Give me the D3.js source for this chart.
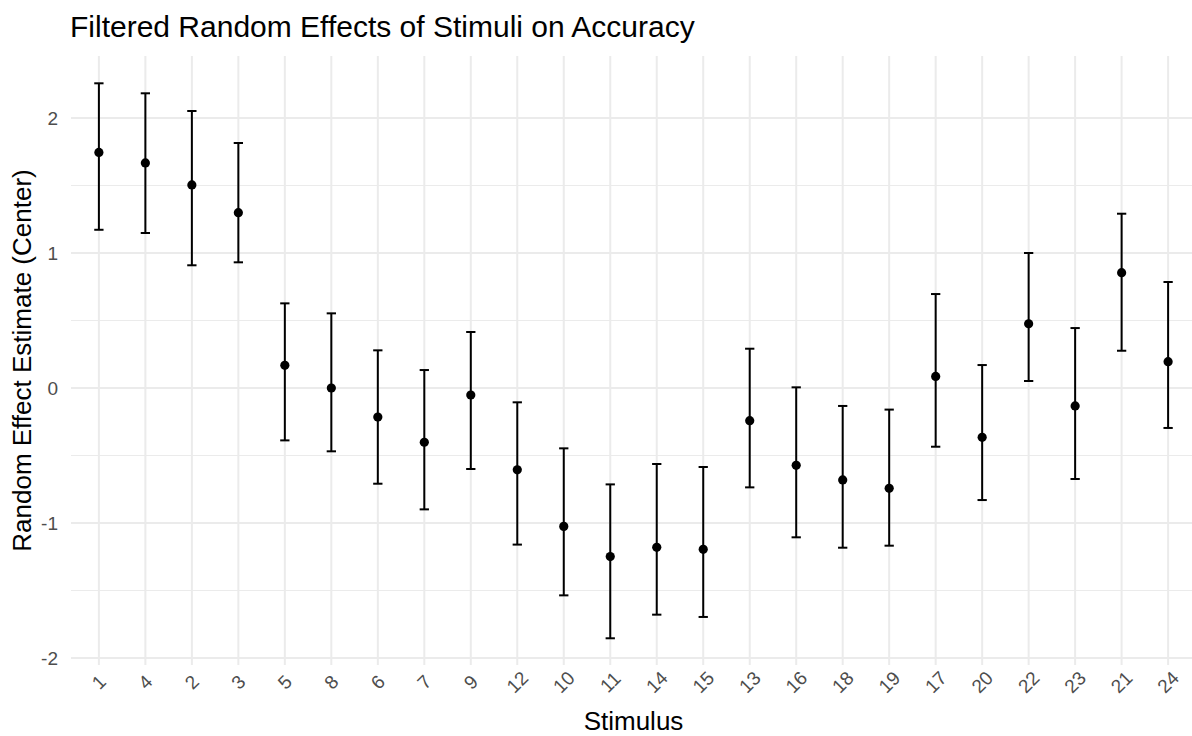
<!DOCTYPE html>
<html>
<head>
<meta charset="utf-8">
<script src="https://cdn.jsdelivr.net/npm/d3@7"></script>
<style>
  body { margin: 0; background: #fff; }
  text { font-family: "Liberation Sans", Arial, sans-serif; }
</style>
</head>
<body>
<div class="d3-content"></div>
<script>
const SVG_WIDTH = 1192;
const SVG_HEIGHT = 736;

// panel edges in pixels (right edge runs past the window, as in the original)
const PANEL = { left: 71, right: 1196, top: 56, bottom: 665 };

const stimuli = ['1','4','2','3','5','8','6','7','9','12','10','11','14','15','13','16','18','19','17','20','22','23','21','24'];
const estimates = [1.745, 1.667, 1.504, 1.299, 0.168, 0.0, -0.215, -0.402, -0.052, -0.606, -1.025, -1.249, -1.18, -1.195, -0.242, -0.573, -0.681, -0.743, 0.086, -0.365, 0.476, -0.133, 0.854, 0.195];
const upper = [2.257, 2.183, 2.052, 1.815, 0.627, 0.553, 0.279, 0.133, 0.415, -0.106, -0.447, -0.714, -0.563, -0.585, 0.291, 0.005, -0.133, -0.16, 0.696, 0.17, 1.0, 0.444, 1.291, 0.785];
const lower = [1.172, 1.148, 0.909, 0.931, -0.388, -0.469, -0.709, -0.899, -0.6, -1.16, -1.536, -1.854, -1.679, -1.696, -0.736, -1.106, -1.183, -1.168, -0.435, -0.83, 0.052, -0.674, 0.276, -0.296];

const yMajor = [-2, -1, 0, 1, 2];
const yMinor = [-1.5, -0.5, 0.5, 1.5];

const chart_data = stimuli.map((s, i) => ({
  stim: s,
  est: estimates[i],
  hi: upper[i],
  lo: lower[i],
}));

const svg = d3.select('.d3-content')
              .append('svg')
              .attr('width', SVG_WIDTH)
              .attr('height', SVG_HEIGHT);

// discrete x like ggplot: 0.6 units of padding on both sides
const xscale = d3.scalePoint()
  .domain(stimuli)
  .range([PANEL.left, PANEL.right])
  .padding(0.6);

const yscale = d3.scaleLinear()
  .domain([-2, 2])
  .range([658, 118]);

const grid = svg.append('g');

// minor gridlines
grid.selectAll('.minor')
  .data(yMinor)
  .join('line')
  .attr('x1', PANEL.left).attr('x2', PANEL.right)
  .attr('y1', d => yscale(d)).attr('y2', d => yscale(d))
  .attr('stroke', '#ebebeb')
  .attr('stroke-width', 1);

// major gridlines
grid.selectAll('.major')
  .data(yMajor)
  .join('line')
  .attr('x1', PANEL.left).attr('x2', PANEL.right)
  .attr('y1', d => yscale(d)).attr('y2', d => yscale(d))
  .attr('stroke', '#ebebeb')
  .attr('stroke-width', 2);

grid.selectAll('.vgrid')
  .data(stimuli)
  .join('line')
  .attr('x1', d => xscale(d)).attr('x2', d => xscale(d))
  .attr('y1', PANEL.top).attr('y2', PANEL.bottom)
  .attr('stroke', '#ebebeb')
  .attr('stroke-width', 2);

// y axis labels
svg.append('g')
  .selectAll('text')
  .data(yMajor)
  .join('text')
  .attr('x', 58)
  .attr('y', d => yscale(d))
  .attr('dy', '0.35em')
  .attr('text-anchor', 'end')
  .attr('fill', '#4d4d4d')
  .attr('font-size', 19)
  .text(d => d);

// x axis labels, rotated 45
svg.append('g')
  .selectAll('text')
  .data(stimuli)
  .join('text')
  .attr('transform', d => `translate(${xscale(d)}, 682) rotate(-45)`)
  .attr('dy', '0.35em')
  .attr('text-anchor', 'middle')
  .attr('fill', '#4d4d4d')
  .attr('font-size', 19)
  .text(d => d);

// error bars
const capW = xscale.step() * 0.1;
const bars = svg.append('g')
  .attr('stroke', '#000')
  .attr('stroke-width', 2);

bars.selectAll('.stem')
  .data(chart_data)
  .join('line')
  .attr('x1', d => xscale(d.stim)).attr('x2', d => xscale(d.stim))
  .attr('y1', d => yscale(d.hi)).attr('y2', d => yscale(d.lo));

bars.selectAll('.captop')
  .data(chart_data)
  .join('line')
  .attr('x1', d => xscale(d.stim) - capW).attr('x2', d => xscale(d.stim) + capW)
  .attr('y1', d => yscale(d.hi)).attr('y2', d => yscale(d.hi));

bars.selectAll('.capbot')
  .data(chart_data)
  .join('line')
  .attr('x1', d => xscale(d.stim) - capW).attr('x2', d => xscale(d.stim) + capW)
  .attr('y1', d => yscale(d.lo)).attr('y2', d => yscale(d.lo));

// points
svg.append('g')
  .selectAll('circle')
  .data(chart_data)
  .join('circle')
  .attr('cx', d => xscale(d.stim))
  .attr('cy', d => yscale(d.est))
  .attr('r', 4.6)
  .attr('fill', '#000');

// title
svg.append('text')
   .text('Filtered Random Effects of Stimuli on Accuracy')
   .attr('x', 70)
   .attr('y', 37)
   .attr('font-size', 30)
   .attr('fill', '#000');

// x-axis label
svg.append('text')
   .text('Stimulus')
   .attr('x', (PANEL.left + PANEL.right) / 2)
   .attr('y', 730)
   .attr('text-anchor', 'middle')
   .attr('font-size', 26)
   .attr('fill', '#000');

// y-axis label
svg.append('text')
   .text('Random Effect Estimate (Center)')
   .attr('transform', `translate(31, ${(PANEL.top + PANEL.bottom) / 2}) rotate(-90)`)
   .attr('text-anchor', 'middle')
   .attr('font-size', 26)
   .attr('fill', '#000');
</script>
</body>
</html>
